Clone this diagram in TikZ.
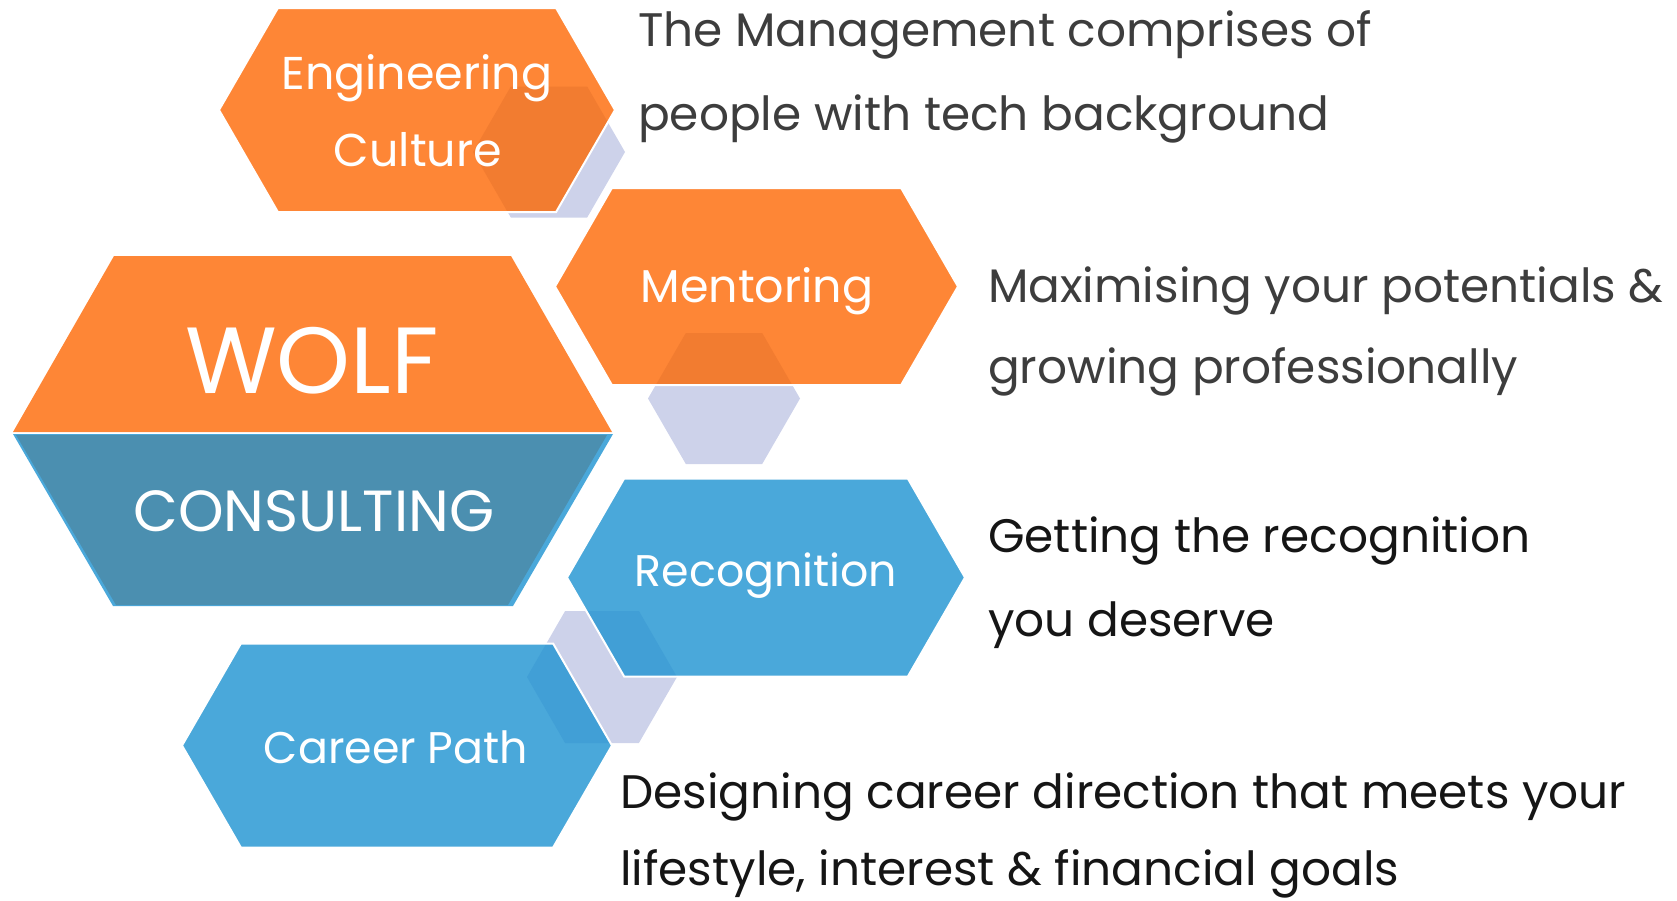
\documentclass[tikz,border=0pt]{standalone}
\usepackage{fontspec}
\setmainfont{Poppins}
\definecolor{orA}{HTML}{FE8636}
\definecolor{orD}{HTML}{F27C30}
\definecolor{blA}{HTML}{4AA8DA}
\definecolor{blD}{HTML}{419FD6}
\definecolor{teal}{HTML}{4B8FB0}
\definecolor{lav}{HTML}{CDD2EA}
\definecolor{grayT}{HTML}{3D3D3D}
\definecolor{blackT}{HTML}{151515}
\newcommand\hexat[4]{({#1-#3},{#2}) -- ({#1-#3+0.57735*#4},{#2-#4}) -- ({#1+#3-0.57735*#4},{#2-#4}) -- ({#1+#3},{#2}) -- ({#1+#3-0.57735*#4},{#2+#4}) -- ({#1-#3+0.57735*#4},{#2+#4}) -- cycle}
\tikzset{
  hexline/.style={draw=white, line width=2pt, line join=miter},
  intext/.style={text=white, font=\fontsize{46}{50}\selectfont, inner sep=0pt, anchor=base},
  desc/.style={font=\fontsize{47}{52}\selectfont, inner sep=0pt, anchor=base west},
}
\begin{document}
\begin{tikzpicture}[x=1pt,y=-1pt]
\useasboundingbox (0,0) rectangle (1677,900);
% lavender connector hexes
\fill[lav] \hexat{549}{152}{76}{65.5};
\fill[lav] \hexat{724}{398.5}{76}{65.5};
\fill[lav] \hexat{602}{677}{75}{66};
% Engineering
\fill[orA] \hexat{417}{110}{198}{102};
\begin{scope}\clip \hexat{549}{152}{76}{65.5}; \fill[orD] \hexat{417}{110}{198}{102}; \end{scope}
\draw[hexline] \hexat{417}{110}{198}{102};
% Mentoring
\fill[orA] \hexat{756.5}{286.5}{201.5}{98.5};
\begin{scope}\clip \hexat{724}{398.5}{76}{65.5}; \fill[orD] \hexat{756.5}{286.5}{201.5}{98.5}; \end{scope}
\draw[hexline] \hexat{756.5}{286.5}{201.5}{98.5};
% Recognition
\fill[blA] \hexat{766}{577.5}{199}{99};
\begin{scope}\clip \hexat{602}{677}{75}{66}; \fill[blD] \hexat{766}{577.5}{199}{99}; \end{scope}
\draw[hexline] \hexat{766}{577.5}{199}{99};
% Career Path
\fill[blA] \hexat{397}{745.5}{215}{102};
\begin{scope}\clip \hexat{602}{677}{75}{66}; \fill[blD] \hexat{397}{745.5}{215}{102}; \end{scope}
\draw[hexline] \hexat{397}{745.5}{215}{102};
% WOLF CONSULTING
\fill[orA] (13,432) -- (114,256) -- (511,256) -- (612,432) -- cycle;
\fill[blA] (13,434) -- (613,434) -- (513,606) -- (113,606) -- cycle;
\fill[teal] (16,435) -- (607,435) -- (508,605) -- (116,605) -- cycle;
% hex texts
\node[intext] (tE1) at (417,89) {Engineering};
\node[intext] (tE2) at (418,166) {Culture};
\node[intext] (tM) at (757,302) {Mentoring};
\node[intext, font=\fontsize{44.3}{48}\selectfont] (tR) at (766,586) {Recognition};
\node[intext, font=\fontsize{44.3}{48}\selectfont] (tC) at (396,763) {Career Path};
\node[text=white, font=\fontsize{94}{100}\selectfont, inner sep=0pt, anchor=base] (tW) at (312,393) {WOLF};
\node[text=white, font=\fontsize{58}{62}\selectfont, inner sep=0pt, anchor=base] (tCo) at (314,531) {CONSULTING};
% descriptions
\node[desc, text=grayT] (d1a) at (638,46) {The Management comprises of};
\node[desc, text=grayT] (d1b) at (638,130) {people with tech background};
\node[desc, text=grayT] (d2a) at (988,302) {Maximising your potentials \&};
\node[desc, text=grayT] (d2b) at (988,383) {growing professionally};
\node[desc, text=blackT] (d3a) at (988,552) {Getting the recognition};
\node[desc, text=blackT] (d3b) at (988,636) {you deserve};
\node[desc, text=blackT] (d4a) at (620,808) {Designing career direction that meets your};
\node[desc, text=blackT] (d4b) at (620,885) {lifestyle, interest \& financial goals};
\end{tikzpicture}
\end{document}
